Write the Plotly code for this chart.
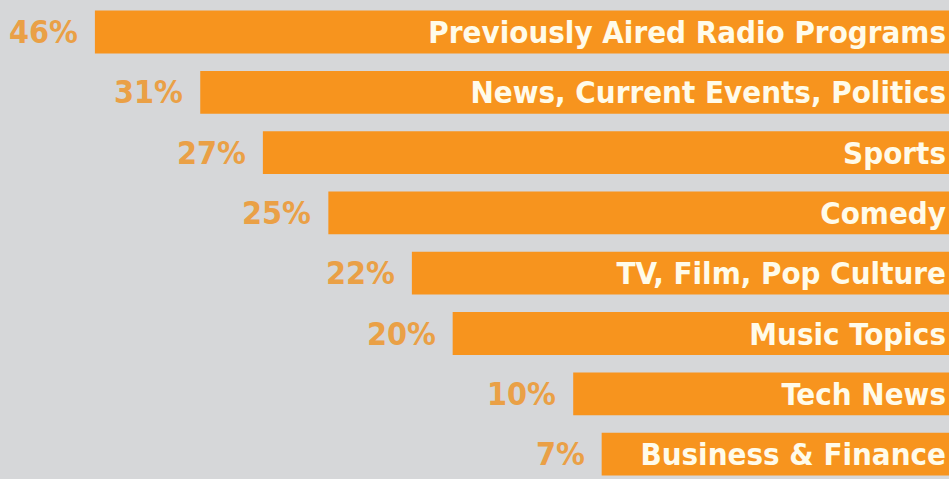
import plotly.graph_objects as go

categories = ["Previously Aired Radio Programs", "News, Current Events, Politics", "Sports",
              "Comedy", "TV, Film, Pop Culture", "Music Topics", "Tech News", "Business & Finance"]
percent = [46, 31, 27, 25, 22, 20, 10, 7]
# displayed bar length (share of chart width, as drawn in the infographic)
bar_length = [90.0, 78.9, 72.3, 65.4, 56.6, 52.3, 39.6, 36.6]

BG = "#d6d7d9"
BAR = "#f7941e"
PCT = "#eaa046"
TXT = "#fffbea"
FONT = "DejaVu Sans Condensed"

fig = go.Figure()
fig.add_trace(go.Bar(
    y=categories, x=bar_length, orientation="h",
    marker=dict(color=BAR, line=dict(width=0)),
    width=0.71,
    text=categories, textposition="inside", insidetextanchor="start",
    constraintext="none", cliponaxis=False,
    insidetextfont=dict(family=FONT, size=31, color=TXT, weight="bold"),
    hoverinfo="skip",
))

for c, p, L in zip(categories, percent, bar_length):
    fig.add_annotation(x=L, y=c, text=f"{p}%", showarrow=False,
                       xanchor="right", xshift=-15,
                       font=dict(family=FONT, size=32, color=PCT, weight="bold"))

fig.update_layout(
    width=949, height=479,
    margin=dict(l=0, r=0, t=0, b=0),
    paper_bgcolor=BG, plot_bgcolor=BG,
    showlegend=False,
    xaxis=dict(range=[100, 0], visible=False, fixedrange=True),
    yaxis=dict(range=[7.413, -0.531], visible=False, fixedrange=True),
    bargap=0.3,
)
fig.write_html("out.html", config={"displayModeBar": False},
               post_script="document.body.style.margin='0';document.body.style.overflow='hidden';")
